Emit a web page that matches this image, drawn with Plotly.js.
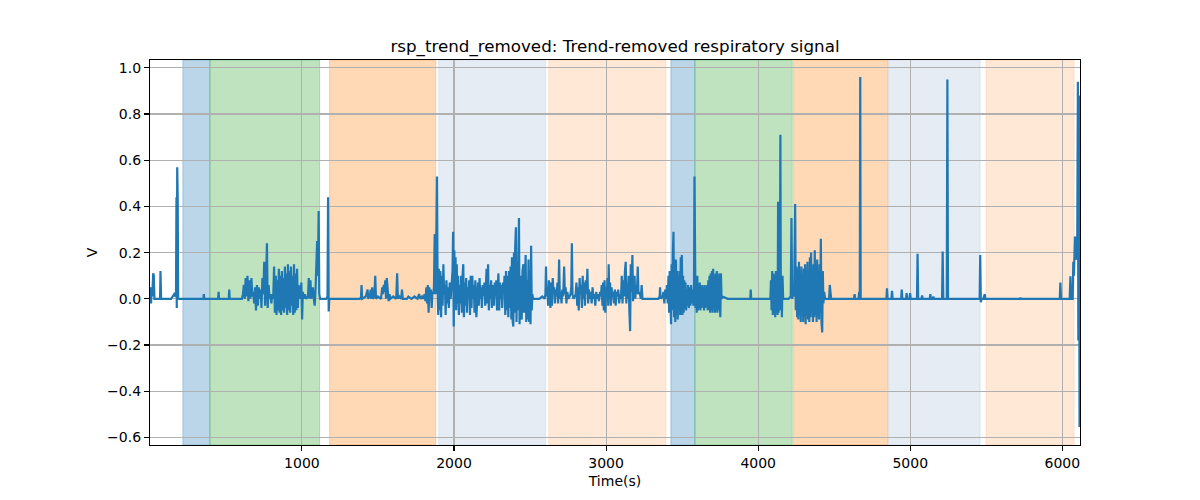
<!DOCTYPE html>
<html>
<head>
<meta charset="utf-8">
<script src="https://cdn.plot.ly/plotly-3.0.1.min.js"></script>
<style>html,body{margin:0;padding:0;background:#fff;}#chart{width:1200px;height:500px;}</style>
</head>
<body>
<div id="chart"></div>
<script>
// ---- data ----
const chartTitle = "rsp_trend_removed: Trend-removed respiratory signal";
const xLabel = "Time(s)";
const yLabel = "V";

// signal samples: [time (s), value (V)]
const sigPre = [
  [0,0.05],[4,0.02],[8,-0.02],[12,0.05],[16,0.01],[22,0.11],[26,0.1],[30,0.0],[45,0.0],[60,0.0],
  [67,0.0],[70,0.12],[74,0.0],[100,0.0],[140,0.0],[160,0.02],[168,0.01],[172,0.03],[175,0.44],
  [177,-0.04],[180,0.57],[183,0.44],[186,0.0],[220,0.0],[300,0.0],[352,0.0],[355,0.02],[358,0.0],
  [449,0.0],[452,0.03],[455,0.0],[519,0.0],[522,0.04],[525,0.0],[605,0.0]
];
const sigSeg1 = [
  [612,0.02],[618,0.06],[624,0.0],[630,0.09],[636,0.01],[642,0.1],[648,-0.01],[655,0.08],[661,0.0],
  [668,0.09],[674,0.01],[680,0.03],[686,-0.02],[692,0.05],[698,-0.05],[704,0.06],[710,-0.03],
  [716,0.05],[722,0.0],[728,0.04],[734,-0.04],[740,0.09],[746,0.02],[752,0.16],[758,-0.03],
  [764,0.07],[770,0.24],[775,-0.04],[781,0.06],[787,0.0],[793,0.02],[799,-0.02],[805,0.02],
  [811,0.0],[817,0.14],[822,-0.06],[828,0.1],[833,-0.07],[838,0.08],[843,-0.05],[848,0.13],
  [853,-0.06],[858,0.1],[863,-0.07],[868,0.12],[873,-0.05],[878,0.09],[883,-0.06],[888,0.14],
  [893,-0.04],[898,0.11],[903,-0.07],[908,0.15],[913,-0.05],[918,0.12],[923,-0.06],[928,0.14],
  [933,-0.03],[938,0.1],[943,-0.07],[948,0.15],[953,-0.06],[958,0.11],[963,-0.05],[968,0.13],
  [973,-0.04],[978,0.06],[984,0.0],[990,0.02],[996,0.07],[1001,-0.09],[1006,0.03],[1012,0.0],
  [1020,0.02],[1028,0.0],[1040,0.01],[1045,0.09],[1050,0.0],[1056,0.08],[1061,0.0],[1072,0.05],
  [1078,0.0],[1084,-0.03],[1090,0.05],[1095,0.2],[1100,0.25],[1105,0.1],[1110,0.38],[1114,0.02],
  [1120,0.0],[1140,0.0],[1160,0.0],[1168,0.01],[1172,0.44],[1176,-0.055],[1180,0.0]
];
const sigSeg2 = [
  [1200,0.0],[1260,0.0],[1320,0.0],[1380,0.0],[1388,0.005],[1392,0.06],[1396,0.0],[1420,0.01],
  [1432,0.04],[1436,0.0],[1448,0.02],[1452,0.04],[1456,0.0],[1462,0.05],[1466,0.0],[1476,0.01],
  [1482,0.1],[1487,0.0],[1500,0.01],[1520,0.0],[1528,0.05],[1533,0.02],[1538,0.06],[1543,0.03],
  [1548,0.08],[1553,0.0],[1558,0.09],[1564,0.02],[1570,-0.01],[1576,0.02],[1582,0.0],[1600,0.01],
  [1620,0.0],[1626,0.11],[1631,0.0],[1640,0.01],[1652,0.0],[1658,0.04],[1663,0.0],[1690,0.0],
  [1700,0.01],[1720,0.0],[1740,0.01],[1760,0.0],[1770,0.02],[1780,0.0],[1790,0.01],[1800,0.0],
  [1806,0.02],[1812,-0.01],[1818,0.05],[1823,-0.02],[1828,0.06],[1833,-0.06],[1838,0.05],
  [1843,0.01],[1848,0.04],[1853,-0.04],[1858,0.03],[1863,0.02],[1868,0.05],[1873,0.28],
  [1878,0.02],[1884,0.3],[1888,0.53],[1892,0.05]
];
const sigSeg3 = [
  [1896,-0.07],[1900,0.13],[1905,-0.05],[1910,0.12],[1915,-0.08],[1920,0.1],[1925,-0.03],
  [1930,0.15],[1935,0.02],[1940,0.06],[1945,-0.07],[1950,0.08],[1955,-0.02],[1960,0.05],
  [1966,-0.04],[1972,0.07],[1978,0.0],[1984,0.06],[1990,0.12],[1994,0.29],[1998,-0.12],
  [2002,0.21],[2006,0.02],[2010,0.18],[2014,-0.05],[2018,0.15],[2022,-0.02],[2027,0.1],
  [2032,-0.07],[2037,0.06],[2042,-0.02],[2047,0.1],[2052,-0.06],[2057,0.11],[2061,0.15],
  [2065,-0.08],[2070,0.07],[2075,-0.03],[2080,0.09],[2085,-0.06],[2090,0.05],[2095,0.0],
  [2100,0.08],[2105,-0.07],[2110,0.1],[2115,-0.04],[2120,0.1],[2125,0.0],[2130,0.06],
  [2135,-0.06],[2140,0.08],[2147,-0.08],[2152,0.04],[2158,0.07],[2163,-0.03],[2168,0.09],
  [2173,0.0],[2178,0.05],[2183,-0.04],[2188,0.06],[2194,0.01],[2200,0.07],[2205,-0.03],
  [2210,0.05],[2214,0.13],[2219,-0.02],[2224,0.15],[2229,-0.05],[2234,0.06],[2239,0.0],
  [2244,0.08],[2249,-0.04],[2254,0.06],[2258,0.04],[2263,-0.03],[2268,0.07],[2273,0.01],
  [2278,0.08],[2283,-0.05],[2288,0.06],[2292,0.11],[2297,-0.05],[2302,0.07],[2307,0.0],
  [2312,0.06],[2317,-0.04],[2322,0.07],[2327,0.02],[2332,0.1],[2337,-0.07],[2342,0.12],
  [2347,-0.05],[2352,0.1],[2357,-0.08],[2362,0.12],[2367,-0.04],[2372,0.14],[2377,-0.09],
  [2381,0.18],[2386,-0.1],[2390,-0.12],[2394,0.2],[2398,-0.06],[2402,0.22],[2407,0.31],
  [2411,-0.1],[2415,0.15],[2419,-0.05],[2423,0.28],[2427,0.35],[2431,-0.11],[2436,0.1],
  [2440,-0.06],[2445,-0.09],[2450,0.12],[2456,0.15],[2460,-0.06],[2466,0.12],[2471,0.19],
  [2475,-0.1],[2480,0.08],[2485,-0.09],[2490,0.17],[2494,-0.1],[2499,0.12],[2503,-0.11],
  [2507,0.23],[2511,-0.05],[2515,0.02],[2520,0.0],[2540,0.0],[2560,0.0],[2580,0.01],[2596,0.0],
  [2601,0.02],[2605,0.14],[2609,0.01]
];
const sigSeg4 = [
  [2614,0.05],[2619,-0.03],[2624,0.08],[2629,0.02],[2634,-0.04],[2639,0.07],[2644,-0.03],
  [2649,0.09],[2654,0.03],[2659,0.05],[2664,-0.02],[2669,0.04],[2675,0.01],[2680,0.07],
  [2685,-0.02],[2691,0.17],[2696,0.0],[2701,0.03],[2707,-0.02],[2712,0.04],[2718,0.01],
  [2724,0.14],[2729,0.02],[2734,0.05],[2739,-0.02],[2745,0.03],[2752,0.0],[2760,0.01],
  [2766,0.02],[2771,0.05],[2775,0.24],[2779,0.02],[2786,0.0],[2794,0.01],[2800,0.02],
  [2805,0.07],[2810,-0.03],[2815,0.05],[2820,-0.05],[2826,0.09],[2831,0.02],[2836,0.06],
  [2841,-0.04],[2846,0.1],[2851,0.0],[2856,0.07],[2861,-0.03],[2866,0.08],[2871,0.02],
  [2877,0.13],[2882,-0.02],[2887,0.04],[2893,0.0],[2899,0.03],[2905,-0.02],[2911,0.05],
  [2917,0.0],[2923,0.02],[2929,-0.03],[2935,0.03],[2941,0.0],[2947,0.02],[2953,-0.01],
  [2960,0.03],[2966,0.01],[2971,0.06],[2976,-0.03],[2980,0.07],[2985,-0.05],[2990,0.08],
  [2995,-0.06],[3000,0.05],[3005,0.02],[3010,0.09],[3014,-0.03],[3017,0.15],[3021,0.0],
  [3026,0.07],[3031,-0.03],[3036,0.05],[3041,0.01],[3046,0.03],[3052,-0.02],[3058,0.04],
  [3063,-0.03],[3068,0.03],[3074,0.01],[3080,0.04],[3086,-0.02],[3092,0.02],[3098,0.0],
  [3103,0.1],[3108,-0.02],[3113,0.08],[3118,0.01],[3124,0.12],[3129,0.16],[3133,-0.02],
  [3138,0.05],[3143,0.0],[3148,0.1],[3153,-0.05],[3158,-0.14],[3162,0.15],[3166,0.03],
  [3170,0.12],[3173,0.19],[3177,-0.01],[3182,0.05],[3187,0.1],[3192,0.0],[3197,0.06],
  [3203,0.02],[3208,0.14],[3213,0.02],[3220,0.03],[3228,0.0],[3234,0.06],[3239,0.0],
  [3260,0.0],[3290,0.0],[3320,0.0],[3344,0.0],[3352,0.01],[3355,0.05],[3358,0.0],[3372,0.01],
  [3377,0.03],[3383,-0.02],[3389,0.04],[3395,0.0],[3400,0.06],[3405,-0.02]
];
const sigSeg5 = [
  [3410,0.1],[3414,-0.06],[3418,0.12],[3423,-0.09],[3427,-0.11],[3431,0.15],[3435,-0.05],
  [3439,0.2],[3443,0.29],[3447,-0.08],[3451,0.1],[3455,-0.1],[3459,0.17],[3463,-0.07],
  [3467,0.12],[3471,-0.09],[3475,0.1],[3479,-0.04],[3483,0.12],[3487,-0.07],[3491,0.18],
  [3495,-0.05],[3498,0.19],[3502,-0.07],[3506,0.1],[3510,-0.06],[3514,0.08],[3518,-0.04],
  [3522,0.07],[3526,-0.05],[3530,0.04],[3534,-0.03],[3539,0.06],[3544,-0.04],[3549,0.05],
  [3554,-0.03],[3559,0.06],[3564,-0.02],[3569,0.04],[3574,-0.03],[3578,0.05],[3581,0.53],
  [3584,0.02],[3588,-0.04],[3592,0.08],[3596,-0.06],[3600,0.1],[3604,-0.05],[3608,0.06],
  [3612,-0.04],[3616,0.07],[3620,-0.05],[3624,0.05],[3628,-0.04],[3632,0.06],[3636,-0.03],
  [3640,0.05],[3644,-0.05],[3648,0.06],[3652,-0.04],[3656,0.04],[3660,-0.03],[3664,0.06],
  [3668,-0.05],[3672,0.08],[3676,-0.05],[3680,0.1],[3684,-0.06],[3688,0.11],[3692,-0.05],
  [3696,0.12],[3700,-0.06],[3704,0.13],[3708,-0.04],[3712,0.1],[3716,-0.06],[3720,0.11],
  [3724,-0.05],[3728,0.12],[3732,-0.06],[3736,0.09],[3740,-0.05],[3744,0.11],[3748,-0.06],
  [3751,-0.08],[3755,0.11],[3759,0.0],[3764,0.01],[3800,0.0],[3850,0.0],[3900,0.0],[3948,0.0],
  [3951,0.04],[3954,0.0],[4000,0.0],[4050,0.0],[4080,0.0]
];
const sigSeg6 = [
  [4084,0.08],[4088,-0.05],[4092,0.12],[4096,-0.07],[4100,0.11],[4104,-0.06],[4108,0.1],
  [4112,-0.08],[4116,0.12],[4120,-0.06],[4124,0.09],[4128,-0.07],[4131,0.42],[4134,-0.06],
  [4138,0.12],[4142,-0.05],[4146,0.71],[4149,-0.02],[4152,0.1],[4156,-0.08],[4160,0.1],
  [4164,0.0],[4180,0.0],[4200,0.0],[4214,0.01],[4219,0.35],[4223,0.0],[4230,0.02],[4236,0.01],
  [4243,0.41],[4247,-0.05],[4252,0.14],[4256,-0.08],[4260,0.13],[4264,-0.09],[4268,0.16],
  [4272,-0.07],[4276,0.12],[4280,-0.1],[4284,0.14],[4288,-0.06],[4292,0.11],[4296,-0.1],
  [4300,0.13],[4304,-0.08],[4308,0.15],[4312,-0.11],[4316,0.12],[4320,-0.07],[4324,0.16],
  [4328,-0.09],[4332,0.12],[4336,-0.1],[4340,0.18],[4344,-0.08],[4348,0.2],[4352,-0.06],
  [4356,0.13],[4360,-0.1],[4364,0.15],[4368,-0.08],[4372,0.21],[4376,-0.07],[4380,0.14],
  [4384,-0.1],[4388,0.17],[4392,-0.08],[4396,0.12],[4400,-0.09],[4404,0.15],[4408,-0.06],
  [4412,0.26],[4416,-0.1],[4421,-0.146],[4425,0.12],[4429,-0.02],[4434,0.03],[4440,0.0],
  [4466,0.0],[4471,0.06],[4475,0.03],[4480,0.0],[4520,0.0],[4560,0.0],[4600,0.0],[4630,0.0],
  [4634,0.02],[4638,0.0],[4660,0.0],[4664,0.03],[4668,0.0],[4671,0.96],[4674,0.0],[4720,0.0],
  [4780,0.0],[4843,0.0],[4847,0.045],[4851,0.0]
];
const sigPost = [
  [4876,0.0],[4880,0.035],[4884,0.0],[4940,0.0],[4944,0.04],[4948,0.0],[4972,0.0],[4976,0.025],
  [4980,0.0],[4995,0.0],[4999,0.025],[5003,0.0],[5044,0.0],[5048,0.195],[5052,0.0],[5074,0.0],
  [5078,0.015],[5082,0.0],[5128,0.0],[5132,0.02],[5136,0.0],[5148,0.0],[5152,0.01],[5156,0.0],
  [5209,0.0],[5213,0.205],[5217,0.0],[5240,0.0],[5244,0.95],[5248,0.0],[5300,0.0],[5380,0.0],
  [5456,0.0],[5460,0.19],[5464,-0.015],[5468,0.0],[5480,0.0],[5490,0.02],[5494,0.0],[5600,0.0],
  [5720,0.0],[5724,0.005],[5728,0.0],[5850,0.0],[5983,0.0],[5987,0.07],[5991,0.0],[6048,0.0],
  [6053,0.097],[6057,0.0],[6068,0.0],[6072,0.16],[6076,0.1],[6083,0.27],[6088,0.18],
  [6094,0.17],[6098,0.27],[6102,0.94],[6105,-0.18],[6109,0.88],[6113,-0.555]
];

// shaded intervals (s) and their fill colours
const bandStart = [217, 395, 1182, 1899, 2623, 3426, 3584, 4233, 4858, 5498];
const bandEnd   = [395, 1116, 1880, 2603, 3393, 3584, 4224, 4853, 5459, 6077];
const bandColor = [
  "rgba(31,119,180,0.3)", "rgba(44,160,44,0.3)", "rgba(255,127,14,0.3)", "rgba(176,196,222,0.33)",
  "rgba(255,127,14,0.17)", "rgba(31,119,180,0.3)", "rgba(44,160,44,0.3)", "rgba(255,127,14,0.3)",
  "rgba(176,196,222,0.33)", "rgba(255,127,14,0.17)"
];

const xTickVals = [1000, 2000, 3000, 4000, 5000, 6000];
const yTickVals = [-0.6, -0.4, -0.2, 0.0, 0.2, 0.4, 0.6, 0.8, 1.0];
const yTickText = ["\u22120.6", "\u22120.4", "\u22120.2", "0.0", "0.2", "0.4", "0.6", "0.8", "1.0"];

// ---- build ----
const samples = [].concat(sigPre, sigSeg1, sigSeg2, sigSeg3, sigSeg4, sigSeg5, sigSeg6, sigPost);
const time_s = samples.map(p => p[0]);
const rsp_v = samples.map(p => p[1]);

const FONT = "DejaVu Sans, Liberation Sans, sans-serif";

const shapes = bandStart.map((s, i) => ({
  type: "rect", xref: "x", yref: "paper", x0: s, x1: bandEnd[i], y0: 0, y1: 1,
  fillcolor: bandColor[i], line: {color: bandColor[i], width: 1}, layer: "below"
}));

const trace = {
  type: "scatter", mode: "lines", x: time_s, y: rsp_v,
  line: {color: "#1f77b4", width: 2.2}, hoverinfo: "skip", showlegend: false
};

const layout = {
  width: 1200, height: 500,
  margin: {l: 150, r: 120, t: 60, b: 55, pad: 0},
  paper_bgcolor: "#ffffff", plot_bgcolor: "#ffffff",
  font: {family: FONT, size: 14, color: "#000000"},
  title: {text: chartTitle, font: {family: FONT, size: 16.7, color: "#000"},
          x: 0.5, xref: "paper", xanchor: "center", y: 1 - 46/500, yref: "container", yanchor: "middle"},
  showlegend: false,
  shapes: shapes,
  xaxis: {
    range: [1, 6116], tickmode: "array", tickvals: xTickVals,
    showgrid: true, gridcolor: "#b0b0b0", gridwidth: 1.1, zeroline: false,
    showline: true, linecolor: "#000", linewidth: 1.1, mirror: true,
    ticks: "outside", ticklen: 5, tickwidth: 1.1, tickcolor: "#000",
    tickfont: {family: FONT, size: 14, color: "#000"},
    title: {text: xLabel, font: {family: FONT, size: 14, color: "#000"}, standoff: 6}
  },
  yaxis: {
    range: [-0.633, 1.034], tickmode: "array", tickvals: yTickVals, ticktext: yTickText,
    showgrid: true, gridcolor: "#b0b0b0", gridwidth: 1.1, zeroline: false,
    showline: true, linecolor: "#000", linewidth: 1.1, mirror: true,
    ticks: "outside", ticklen: 5, tickwidth: 1.1, tickcolor: "#000",
    tickfont: {family: FONT, size: 14, color: "#000"},
    title: {text: yLabel, font: {family: FONT, size: 14, color: "#000"}, standoff: 6}
  }
};

Plotly.newPlot("chart", [trace], layout, {staticPlot: true, displayModeBar: false});
</script>
</body>
</html>
